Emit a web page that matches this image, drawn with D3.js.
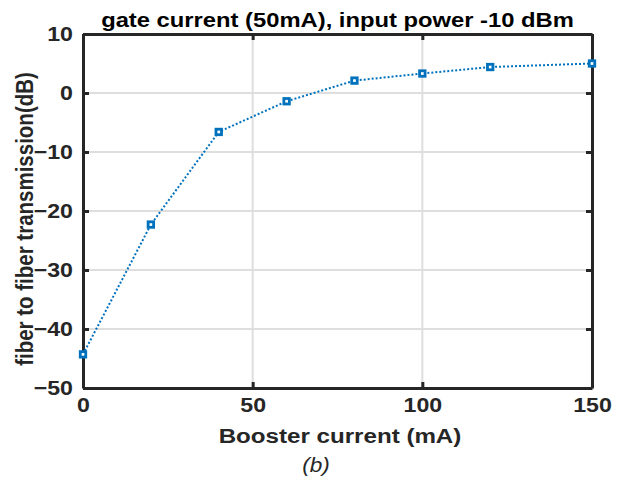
<!DOCTYPE html>
<html>
<head>
<meta charset="utf-8">
<script src="https://cdn.jsdelivr.net/npm/d3@7"></script>
<style>
  body { margin: 0; background: #fff; }
  text { font-family: "Liberation Sans", Arial, sans-serif; font-weight: bold; }
</style>
</head>
<body>
<script>
// chart data
var boosterCurrent = [0, 20, 40, 60, 80, 100, 120, 150];
var transmission = [-44.3, -22.3, -6.6, -1.4, 2.1, 3.3, 4.4, 5.0];
var xTicks = [0, 50, 100, 150];
var yTicks = [-50, -40, -30, -20, -10, 0, 10];

var svgWidth = 619, svgHeight = 480;
var plotLeft = 83, plotRight = 592, plotTop = 34, plotBottom = 388;
var axisColor = '#262626';
var stretch = 1.13; // the reference looks slightly widened horizontally

var xScale = d3.scaleLinear().domain([0, 150]).range([plotLeft, plotRight]);
var yScale = d3.scaleLinear().domain([-50, 10]).range([plotBottom, plotTop]);

var svg = d3.select('body')
    .append('svg')
    .attr('width', svgWidth)
    .attr('height', svgHeight);

// grid
svg.append('g')
    .selectAll('line')
    .data(xTicks.slice(1, -1))
    .enter()
    .append('line')
    .attr('x1', d => xScale(d)).attr('x2', d => xScale(d))
    .attr('y1', plotTop).attr('y2', plotBottom)
    .attr('stroke', '#dedede').attr('stroke-width', 2);

svg.append('g')
    .selectAll('line')
    .data(yTicks.slice(1, -1))
    .enter()
    .append('line')
    .attr('x1', plotLeft).attr('x2', plotRight)
    .attr('y1', d => yScale(d)).attr('y2', d => yScale(d))
    .attr('stroke', '#dedede').attr('stroke-width', 2);

// axes
var xAxis = d3.axisBottom(xScale).tickValues(xTicks).tickSizeInner(-6).tickSizeOuter(0).tickPadding(9);
var yAxis = d3.axisLeft(yScale).tickValues(yTicks).tickSizeInner(-6).tickSizeOuter(0).tickPadding(10);
var xAxisTop = d3.axisTop(xScale).tickValues(xTicks).tickSizeInner(-6).tickSizeOuter(0).tickFormat('');
var yAxisRight = d3.axisRight(yScale).tickValues(yTicks).tickSizeInner(-6).tickSizeOuter(0).tickFormat('');

function styleAxis(g) {
    g.select('.domain').attr('stroke', axisColor).attr('stroke-width', 3);
    g.selectAll('.tick line').attr('stroke', axisColor).attr('stroke-width', 3);
    g.selectAll('.tick text')
        .attr('fill', axisColor).attr('font-size', 20.5)
        .attr('font-family', '"Liberation Sans", Arial, sans-serif').attr('font-weight', 'bold')
        .each(function() {
            var t = d3.select(this);
            var x = +t.attr('x') || 0;
            t.attr('x', 0).attr('transform', `translate(${ x }, 0) scale(${ stretch }, 1)`);
        });
}

svg.append('g').attr('transform', `translate(0, ${ plotBottom })`).call(xAxis).call(styleAxis);
svg.append('g').attr('transform', `translate(${ plotLeft }, 0)`).call(yAxis).call(styleAxis);
svg.append('g').attr('transform', `translate(0, ${ plotTop })`).call(xAxisTop).call(styleAxis);
svg.append('g').attr('transform', `translate(${ plotRight }, 0)`).call(yAxisRight).call(styleAxis);

// line
var line = d3.line()
    .x((d, i) => xScale(boosterCurrent[i]))
    .y(d => yScale(d));

svg.append('path')
    .datum(transmission)
    .attr('d', line)
    .attr('fill', 'none')
    .attr('stroke', '#0072BD')
    .attr('stroke-width', 2)
    .attr('stroke-dasharray', '2,2');

// markers
svg.append('g')
    .selectAll('rect')
    .data(transmission)
    .enter()
    .append('rect')
    .attr('x', (d, i) => xScale(boosterCurrent[i]) - 2.75)
    .attr('y', d => yScale(d) - 2.75)
    .attr('width', 5.5).attr('height', 5.5)
    .attr('fill', '#fff')
    .attr('stroke', '#0072BD')
    .attr('stroke-width', 2.8);

// labels
svg.append('text')
    .attr('transform', `translate(337.5, 27) scale(1.16, 1)`)
    .attr('text-anchor', 'middle').attr('font-size', 20.5).attr('fill', '#000')
    .text('gate current (50mA), input power -10 dBm');

svg.append('text')
    .attr('transform', `translate(340, 443) scale(1.15, 1)`)
    .attr('text-anchor', 'middle').attr('font-size', 21).attr('fill', axisColor)
    .text('Booster current (mA)');

svg.append('text')
    .attr('transform', `translate(33, 219) rotate(-90) scale(1, ${ stretch })`)
    .attr('text-anchor', 'middle').attr('font-size', 20.5).attr('fill', axisColor)
    .text('fiber to fiber transmission(dB)');

svg.append('text')
    .attr('transform', `translate(316, 472) scale(${ stretch }, 1)`)
    .attr('text-anchor', 'middle').attr('font-size', 20)
    .style('font-weight', 'normal').style('font-style', 'italic').attr('fill', axisColor)
    .text('(b)');
</script>
</body>
</html>
